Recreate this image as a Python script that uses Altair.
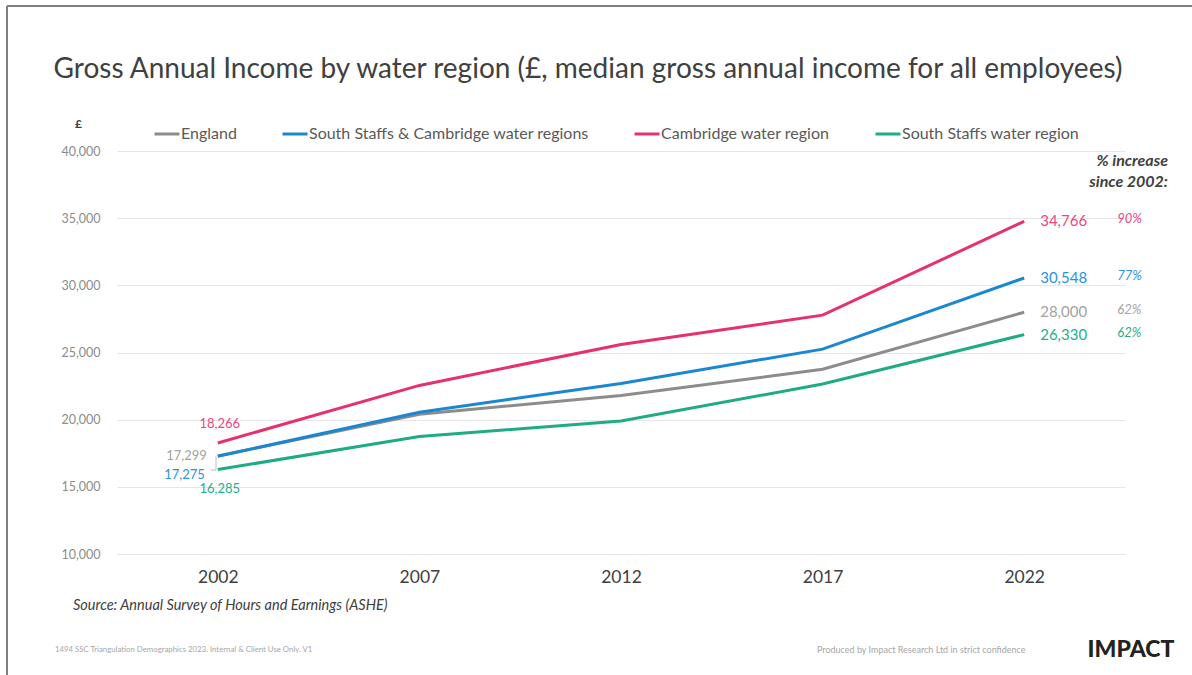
import altair as alt
import pandas as pd

# Median gross annual income (£) by water region
years = ["2002", "2007", "2012", "2017", "2022"]
series = [
    "England",
    "South Staffs & Cambridge water regions",
    "Cambridge water region",
    "South Staffs water region",
]
england = [17299, 20400, 21800, 23750, 28000]
south_staffs_cambridge = [17275, 20550, 22700, 25250, 30548]
cambridge = [18266, 22550, 25600, 27780, 34766]
south_staffs = [16285, 18750, 19900, 22650, 26330]

line_colors = ["#8c8c8c", "#1b87d1", "#e6306f", "#1fab83"]
label_colors = ["#a3a3a3", "#2b93dc", "#ec4680", "#27ae87"]

values = [england, south_staffs_cambridge, cambridge, south_staffs]

rows = []
for name, vals in zip(series, values):
    pct = round((vals[-1] / vals[0] - 1) * 100)
    for yr, v in zip(years, vals):
        rows.append({"series": name, "year": yr, "value": v, "pct": f"{pct}%"})
df = pd.DataFrame(rows)

FONT = "Lato"
W, H = 1008, 403
LEFT, TOP = 117, 151

x_enc = alt.X(
    "year:O",
    scale=alt.Scale(type="point", padding=0.5),
    axis=alt.Axis(
        title=None, labelAngle=0, labelFontSize=17.5, labelColor="#404040",
        labelFont=FONT, domain=False, ticks=False, grid=False, labelPadding=14,
    ),
)
y_enc = alt.Y(
    "value:Q",
    scale=alt.Scale(domain=[10000, 40000], nice=False, zero=False),
    axis=alt.Axis(
        title=None, values=list(range(10000, 40001, 5000)),
        format=",.0f",
        labelFontSize=12.5, labelColor="#8c8c8c", labelFont=FONT,
        domain=False, ticks=False, labelPadding=17,
        gridColor="#e6e6e6", gridWidth=1,
    ),
)

base = alt.Chart(df).encode(x=x_enc, y=y_enc)

lines = base.mark_line(strokeWidth=3).encode(
    color=alt.Color(
        "series:N",
        sort=series,
        scale=alt.Scale(domain=series, range=line_colors),
        legend=alt.Legend(
            title=None, orient="none", legendX=36, legendY=-31,
            direction="horizontal", symbolType="stroke", symbolSize=625,
            symbolStrokeWidth=3, labelFontSize=16, labelColor="#595959",
            labelFont=FONT, columnPadding=39, labelOffset=0, labelLimit=500,
        ),
    )
)

layers = [lines]

# value labels at the start (2002): dx, dy, align for each series
start_fmt = {
    "England": (-11, 0, "right"),
    "South Staffs & Cambridge water regions": (-13, 19, "right"),
    "Cambridge water region": (2, -19, "center"),
    "South Staffs water region": (2, 19, "center"),
}
for name, col in zip(series, label_colors):
    dx, dy, al = start_fmt[name]
    layers.append(
        base.transform_filter(
            (alt.datum.series == name) & (alt.datum.year == years[0])
        ).mark_text(
            dx=dx, dy=dy, align=al, baseline="middle", fontSize=13,
            font=FONT, color=col,
        ).encode(text=alt.Text("value:Q", format=","))
    )

# value labels and % increase at the end (2022)
for name, col in zip(series, label_colors):
    end = base.transform_filter(
        (alt.datum.series == name) & (alt.datum.year == years[-1])
    )
    layers.append(
        end.mark_text(
            dx=16, align="left", baseline="middle", fontSize=15,
            font=FONT, color=col,
        ).encode(text=alt.Text("value:Q", format=","))
    )
    layers.append(
        end.mark_text(
            dx=93, dy=-2, align="left", baseline="middle", fontSize=13,
            font=FONT, fontStyle="italic", color=col,
        ).encode(text="pct:N")
    )

# small leader line from the 17,275 label
layers.append(
    base.transform_filter(
        (alt.datum.series == series[1]) & (alt.datum.year == years[0])
    ).mark_rule(color="#bfbfbf", strokeWidth=1).encode(
        y2=alt.value(470 - TOP), x=alt.value(216 - LEFT),
    )
)
layers.append(
    alt.Chart(pd.DataFrame({"a": [0]})).mark_rule(color="#bfbfbf", strokeWidth=1).encode(
        x=alt.value(211 - LEFT), x2=alt.value(216 - LEFT), y=alt.value(470 - TOP)
    )
)


def note(text, x, y, size, color="#404040", align="left", weight="normal",
         style="normal", font=FONT):
    return alt.Chart(pd.DataFrame({"t": [text]})).mark_text(
        align=align, baseline="middle", fontSize=size, color=color,
        fontWeight=weight, fontStyle=style, font=font,
    ).encode(text="t:N", x=alt.value(x - LEFT), y=alt.value(y - TOP))


layers += [
    note("Gross Annual Income by water region (£, median gross annual income for all employees)",
         588, 70, 28, color="#404040", align="center"),
    note("£", 75, 124, 12, weight="bold"),
    note("% increase", 1168, 161, 16, weight="bold", style="italic", align="right"),
    note("since 2002:", 1168, 182, 16, weight="bold", style="italic", align="right"),
    note("Source: Annual Survey of Hours and Earnings (ASHE)", 73, 606, 14.5, style="italic"),
    note("1494 SSC Triangulation Demographics 2023. Internal & Client Use Only. V1",
         55, 650, 7.8, color="#a6a6a6"),
    note("Produced by Impact Research Ltd in strict confidence",
         817, 650, 9, color="#a6a6a6"),
    note("IMPACT", 1131, 650, 23, color="#222222", align="center", weight=900),
]

# page frame
frame = pd.DataFrame({"a": [0]})
layers.append(
    alt.Chart(frame).mark_rule(color="#7f7f7f", strokeWidth=2).encode(
        x=alt.value(7 - LEFT), y=alt.value(6 - TOP), y2=alt.value(675 - TOP)
    )
)
layers.append(
    alt.Chart(frame).mark_rule(color="#7f7f7f", strokeWidth=2).encode(
        x=alt.value(7 - LEFT), x2=alt.value(1192 - LEFT), y=alt.value(6 - TOP)
    )
)

chart = alt.layer(*layers).properties(
    width=W, height=H,
    padding={"left": LEFT, "top": TOP, "right": 1192 - LEFT - W, "bottom": 675 - TOP - H},
    autosize=alt.AutoSizeParams(type="none"),
    background="white",
).configure_view(stroke=None)

chart.save("out.html", embed_options={"renderer": "svg", "actions": False})
